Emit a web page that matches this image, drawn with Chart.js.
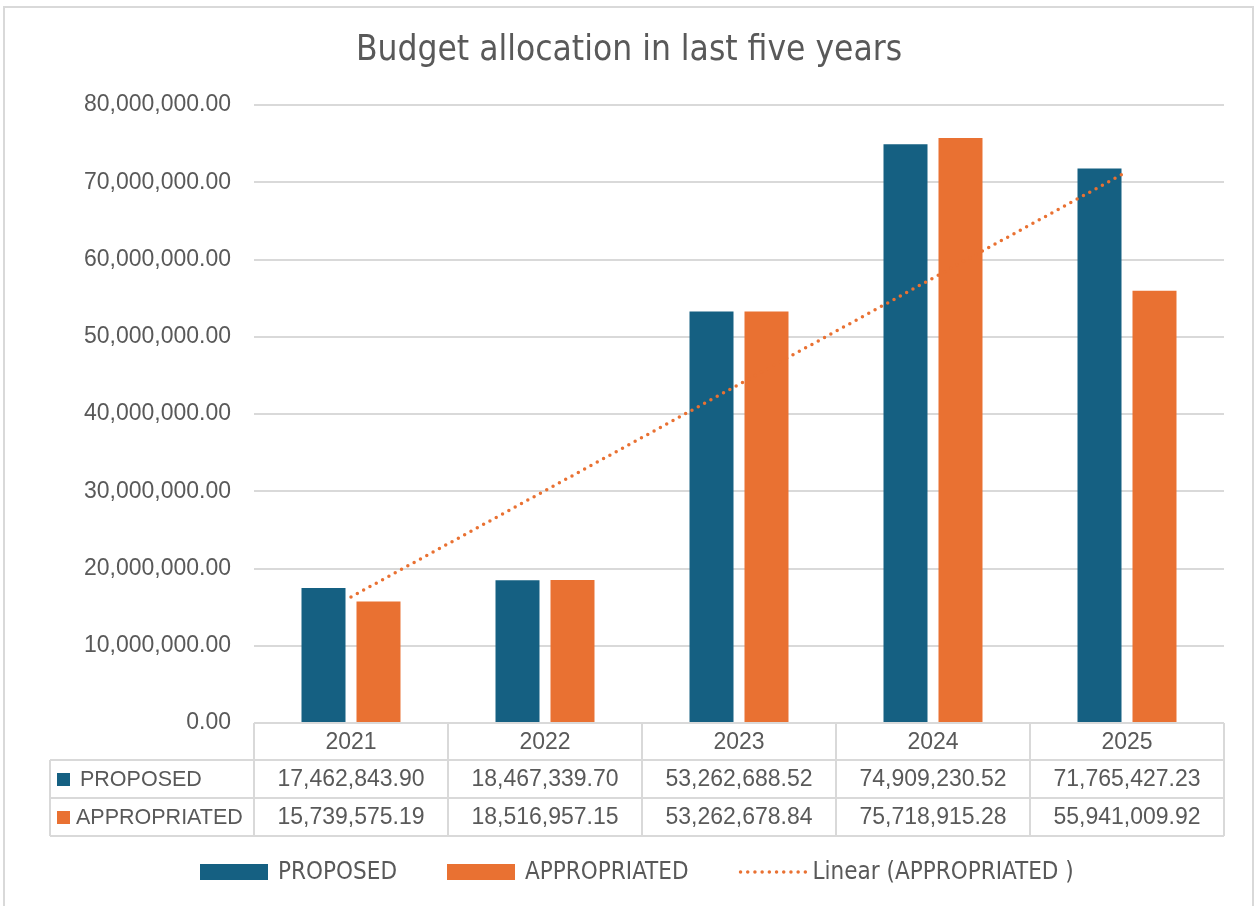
<!DOCTYPE html>
<html>
<head>
<meta charset="utf-8">
<title>Budget allocation</title>
<script src="https://cdn.jsdelivr.net/npm/chart.js@4.4.1/dist/chart.umd.min.js"></script>
<style>
  html, body { margin: 0; padding: 0; background: #ffffff; }
  #wrap { width: 1255px; height: 906px; }
</style>
</head>
<body>
<div id="wrap"><canvas id="budgetChart" width="1255" height="906"></canvas></div>
<script>
// ======================
// Data
// ======================
const years = ["2021", "2022", "2023", "2024", "2025"];
const proposed = [17462843.90, 18467339.70, 53262688.52, 74909230.52, 71765427.23];
const appropriated = [15739575.19, 18516957.15, 53262678.84, 75718915.28, 55941009.92];
// linear trend of APPROPRIATED at the first and last year
const trendEnds = [16310000, 71360000];
const yTicks = [0, 10000000, 20000000, 30000000, 40000000, 50000000, 60000000, 70000000, 80000000];

const BLUE = "#156082";
const ORANGE = "#E97132";
const TEXT = "#595959";
const LINE = "#D9D9D9";
const FONT = "'Liberation Sans', Arial, sans-serif";
const NARROW = "'Liberation Sans Narrow', 'DejaVu Sans Condensed', sans-serif";
const TITLE = "Budget allocation in last five years";

const money = v => Number(v).toLocaleString("en-US", { minimumFractionDigits: 2, maximumFractionDigits: 2 });

// trend only has values at both ends, line spans the gap
const trendData = years.map((y, i) => i === 0 ? trendEnds[0] : (i === years.length - 1 ? trendEnds[1] : null));

// row heights of the data table under the plot
const headRow = 37;
const bodyRow = 38;
const tableLeft = 50;

// ======================
// Frame + title
// ======================
const framePlugin = {
    id: "frame",
    beforeDraw(chart) {
        const ctx = chart.ctx;
        ctx.save();
        ctx.fillStyle = "#ffffff";
        ctx.fillRect(0, 0, chart.width, chart.height);
        ctx.strokeStyle = LINE;
        ctx.lineWidth = 2;
        ctx.strokeRect(4, 7, 1249, 920);

        ctx.fillStyle = TEXT;
        ctx.font = "35px " + NARROW;
        ctx.textAlign = "center";
        ctx.textBaseline = "middle";
        ctx.fillText(TITLE, 629, 51);
        ctx.restore();
    }
};

// ======================
// Data table below the x axis
// ======================
const tablePlugin = {
    id: "dataTable",
    afterDraw(chart) {
        const ctx = chart.ctx;
        const xs = chart.scales.x;
        const area = chart.chartArea;
        const top = area.bottom;
        const half = (xs.getPixelForValue(1) - xs.getPixelForValue(0)) / 2;
        const rows = [top, top + headRow, top + headRow + bodyRow, top + headRow + 2 * bodyRow];

        ctx.save();
        ctx.strokeStyle = LINE;
        ctx.lineWidth = 2;
        ctx.beginPath();
        ctx.moveTo(area.left, rows[0]); ctx.lineTo(area.right, rows[0]);
        for (let r = 1; r < rows.length; r++) {
            ctx.moveTo(tableLeft, rows[r]); ctx.lineTo(area.right, rows[r]);
        }
        ctx.moveTo(tableLeft, rows[1]); ctx.lineTo(tableLeft, rows[3]);
        for (let i = 0; i <= years.length; i++) {
            const bx = xs.getPixelForValue(0) - half + i * 2 * half;
            ctx.moveTo(bx, rows[0]); ctx.lineTo(bx, rows[3]);
        }
        ctx.stroke();

        ctx.fillStyle = TEXT;
        ctx.font = "23px " + FONT;
        ctx.textAlign = "center";
        ctx.textBaseline = "middle";
        years.forEach((y, i) => {
            const cx = xs.getPixelForValue(i);
            ctx.fillText(y, cx, rows[0] + headRow / 2 + 1);
            ctx.fillText(money(proposed[i]), cx, rows[1] + bodyRow / 2 + 1);
            ctx.fillText(money(appropriated[i]), cx, rows[2] + bodyRow / 2 + 1);
        });

        // series names with colour keys
        ctx.font = "21.5px " + FONT;
        const series = chart.data.datasets.filter(d => d.type !== "line");
        series.forEach((ds, k) => {
            const cy = rows[1 + k] + bodyRow / 2;
            ctx.fillStyle = ds.backgroundColor;
            ctx.fillRect(57, cy - 6, 13, 13);
            ctx.fillStyle = TEXT;
            ctx.textAlign = "left";
            ctx.fillText(ds.label, k === 0 ? 80 : 76, cy + 1);
        });
        ctx.restore();
    }
};

// ======================
// Legend at the bottom
// ======================
const legendPlugin = {
    id: "bottomLegend",
    afterDraw(chart) {
        const ctx = chart.ctx;
        const cy = 872;
        ctx.save();
        ctx.font = "24px " + NARROW;
        ctx.textBaseline = "middle";
        ctx.textAlign = "left";
        const items = [chart.data.datasets[1], chart.data.datasets[2], chart.data.datasets[0]];
        const boxW = 68, gap = 10, spacing = 50;
        let x = 200;
        items.forEach(ds => {
            if (ds.type === "line") {
                ctx.strokeStyle = ds.borderColor;
                ctx.lineWidth = 3.5;
                ctx.lineCap = "round";
                ctx.setLineDash([0, 7.2]);
                ctx.beginPath();
                ctx.moveTo(x + 2, cy);
                ctx.lineTo(x + boxW, cy);
                ctx.stroke();
                ctx.setLineDash([]);
                x += boxW + 6;
            } else {
                ctx.fillStyle = ds.backgroundColor;
                ctx.fillRect(x, cy - 8, boxW, 16);
                x += boxW + gap;
            }
            ctx.fillStyle = TEXT;
            ctx.fillText(ds.label, x, cy + 1);
            x += ctx.measureText(ds.label).width + spacing;
        });
        ctx.restore();
    }
};

// ======================
// Chart
// ======================
const ctx = document.getElementById("budgetChart").getContext("2d");
const budgetChart = new Chart(ctx, {
    type: "bar",
    data: {
        labels: years,
        datasets: [
            {
                type: "line",
                label: "Linear (APPROPRIATED )",
                data: trendData,
                spanGaps: true,
                borderColor: ORANGE,
                borderWidth: 3.5,
                borderDash: [0, 7.2],
                borderCapStyle: "round",
                pointRadius: 0,
                fill: false,
                order: 0
            },
            {
                label: "PROPOSED",
                data: proposed,
                backgroundColor: BLUE,
                categoryPercentage: 0.567,
                barPercentage: 0.8,
                order: 1
            },
            {
                label: "APPROPRIATED",
                data: appropriated,
                backgroundColor: ORANGE,
                categoryPercentage: 0.567,
                barPercentage: 0.8,
                order: 1
            }
        ]
    },
    options: {
        responsive: false,
        animation: false,
        layout: { padding: { left: 0, right: 31, top: 105, bottom: 70 } },
        plugins: {
            legend: { display: false },
            tooltip: { enabled: false },
            title: { display: false }
        },
        scales: {
            x: {
                grid: { display: false },
                border: { display: false },
                ticks: { display: false },
                afterFit(scale) { scale.height = headRow + 2 * bodyRow; }
            },
            y: {
                min: yTicks[0],
                max: yTicks[yTicks.length - 1],
                afterBuildTicks(scale) { scale.ticks = yTicks.map(v => ({ value: v })); },
                grid: { color: LINE, lineWidth: 2, drawTicks: false },
                border: { display: false },
                ticks: {
                    color: TEXT,
                    padding: 23,
                    font: { family: FONT, size: 23 },
                    callback: v => money(v)
                },
                afterFit(scale) { scale.width = 254; }
            }
        }
    },
    plugins: [framePlugin, tablePlugin, legendPlugin]
});
</script>
</body>
</html>
